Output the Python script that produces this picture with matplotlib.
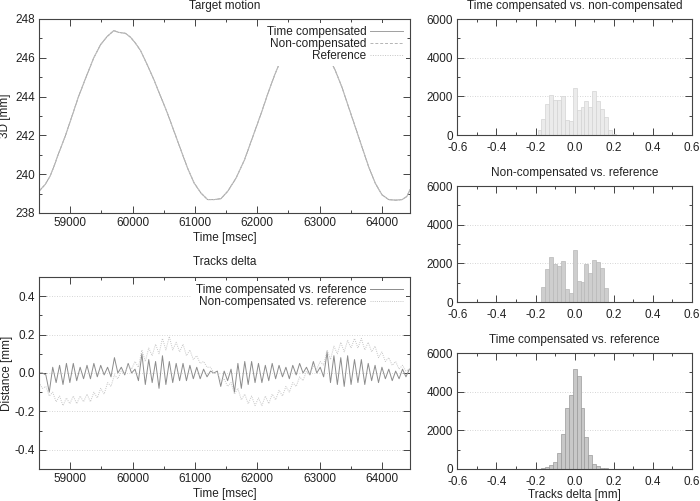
import matplotlib
matplotlib.use("Agg")
import matplotlib.pyplot as plt
import numpy as np
from matplotlib.ticker import MultipleLocator, FormatStrFormatter

plt.rcParams["font.family"] = ["Liberation Sans", "DejaVu Sans"]
plt.rcParams["font.size"] = 8.5
plt.rcParams["text.color"] = "#222222"
plt.rcParams["axes.labelcolor"] = "#222222"
plt.rcParams["xtick.color"] = "#444444"
plt.rcParams["ytick.color"] = "#444444"
plt.rcParams["xtick.labelcolor"] = "#222222"
plt.rcParams["ytick.labelcolor"] = "#222222"

# target motion (3D position, mm)
motion_t = [58500, 58597, 58677, 58731, 58812, 58919, 59027, 59134, 59269, 59376,
            59484, 59591, 59699, 59780, 59887, 59968, 60048, 60129, 60237, 60344,
            60452, 60559, 60667, 60774, 60882, 60989, 61097, 61204, 61312, 61419,
            61527, 61661, 61796, 61930, 62065, 62172, 62280, 62398, 62500, 62600,
            62700, 62800, 62900, 63000, 63140, 63247, 63355, 63462, 63570, 63677,
            63785, 63892, 64000, 64108, 64220, 64323, 64400, 64450]
motion_mm = [239.12, 239.46, 239.89, 240.32, 241.05, 241.94, 242.97, 244.00, 245.12, 245.98,
             246.66, 247.09, 247.40, 247.31, 247.26, 247.06, 246.75, 246.37, 245.63, 244.86,
             244.00, 243.15, 242.20, 241.26, 240.32, 239.54, 239.03, 238.69, 238.69, 238.74,
             239.12, 239.80, 240.74, 241.94, 243.15, 244.17, 245.12, 246.03, 246.60, 247.10,
             247.40, 247.40, 247.20, 246.80, 246.06, 245.38, 244.52, 243.49, 242.46, 241.43,
             240.40, 239.54, 238.94, 238.69, 238.66, 238.69, 238.85, 239.20]

# tracks delta, sampled every 55 ms from 58500
delta_t0 = 58500
delta_dt = 55
delta_comp = [0.00, 0.00, -0.01, -0.10, 0.03, -0.05, 0.04, -0.06, 0.05, -0.05,
              0.05, -0.04, 0.03, -0.03, 0.04, -0.03, 0.05, -0.02, 0.04, -0.01,
              0.03, -0.02, 0.08, 0.00, 0.03, -0.01, 0.05, 0.00, 0.02, -0.04,
              0.10, -0.06, 0.07, -0.05, 0.06, -0.08, 0.09, -0.06, 0.06, -0.05,
              0.05, -0.04, 0.05, -0.04, 0.04, -0.03, 0.03, -0.03, 0.02, -0.02,
              0.01, 0.00, 0.01, -0.07, 0.01, -0.04, 0.02, -0.10, 0.05, -0.08,
              0.06, -0.06, 0.06, -0.05, 0.05, -0.05, 0.04, -0.04, 0.05, -0.03,
              0.04, -0.02, 0.03, -0.03, 0.04, -0.01, 0.05, 0.00, 0.03, -0.01,
              0.06, 0.00, 0.03, -0.02, 0.11, -0.05, 0.09, -0.06, 0.08, -0.07,
              0.09, -0.06, 0.07, -0.05, 0.07, -0.06, 0.05, -0.04, 0.04, -0.05,
              0.03, -0.03, 0.02, -0.04, 0.01, -0.03, 0.02, -0.02, 0.02]
delta_noncomp = [-0.05, -0.08, -0.07, -0.12, -0.10, -0.15, -0.12, -0.17, -0.13, -0.16,
                 -0.12, -0.16, -0.12, -0.15, -0.11, -0.15, -0.10, -0.13, -0.08, -0.11,
                 -0.05, -0.07, -0.01, -0.03, 0.01, 0.00, 0.04, 0.02, 0.06, 0.03,
                 0.12, 0.06, 0.13, 0.09, 0.15, 0.10, 0.18, 0.12, 0.19, 0.12,
                 0.16, 0.11, 0.15, 0.09, 0.12, 0.07, 0.09, 0.05, 0.06, 0.03,
                 0.03, 0.00, 0.00, -0.04, -0.03, -0.07, -0.05, -0.11, -0.08, -0.14,
                 -0.11, -0.16, -0.12, -0.17, -0.13, -0.17, -0.12, -0.16, -0.11, -0.14,
                 -0.09, -0.12, -0.07, -0.10, -0.05, -0.07, -0.02, -0.04, 0.01, -0.01,
                 0.04, 0.02, 0.06, 0.04, 0.12, 0.07, 0.14, 0.10, 0.16, 0.11,
                 0.17, 0.13, 0.18, 0.13, 0.18, 0.12, 0.16, 0.11, 0.14, 0.08,
                 0.11, 0.06, 0.08, 0.04, 0.06, 0.02, 0.04, 0.01, 0.02]

# histograms (bin centres in mm, counts)
hist1_centers = [-0.18, -0.16, -0.14, -0.12, -0.10, -0.08, -0.06, -0.04, -0.02, 0.00,
                 0.02, 0.04, 0.06, 0.08, 0.10, 0.12, 0.14, 0.16, 0.18, 0.20]
hist1_counts = [275, 840, 1620, 2080, 1820, 1820, 2030, 790, 740, 2410,
                1310, 1450, 1770, 1450, 2290, 1740, 1360, 910, 275, 70]
hist2_centers = [-0.16, -0.14, -0.12, -0.10, -0.08, -0.06, -0.04, -0.02, 0.00,
                 0.02, 0.04, 0.06, 0.08, 0.10, 0.12, 0.14, 0.16]
hist2_counts = [770, 1690, 2330, 1950, 1840, 2140, 690, 480, 2700,
                1090, 1060, 1970, 1500, 2190, 2080, 1780, 740]
hist3_centers = [-0.18, -0.16, -0.14, -0.12, -0.10, -0.08, -0.06, -0.04, -0.02, 0.00,
                 0.02, 0.04, 0.06, 0.08, 0.10, 0.12, 0.14, 0.16, 0.18]
hist3_counts = [15, 35, 100, 225, 350, 835, 1830, 3180, 3830, 5190,
                4820, 3130, 1650, 700, 260, 140, 70, 35, 15]

fig = plt.figure(figsize=(7.0, 5.01), dpi=100)
ax_motion = fig.add_axes([0.0557, 0.5749, 0.5300, 0.3872])
ax_delta = fig.add_axes([0.0557, 0.0639, 0.5300, 0.3832])
ax_h1 = fig.add_axes([0.6533, 0.7305, 0.3353, 0.2315])
ax_h2 = fig.add_axes([0.6533, 0.3972, 0.3353, 0.2315])
ax_h3 = fig.add_axes([0.6533, 0.0639, 0.3353, 0.2315])


def style_axes(ax):
    for side in ax.spines.values():
        side.set_color("#444444")
        side.set_linewidth(0.8)
    ax.tick_params(which="both", direction="in", top=True, right=True, width=0.7)
    ax.tick_params(which="major", length=5, pad=3)
    ax.tick_params(which="minor", length=2.5)


def grid_y(ax):
    ax.yaxis.grid(True, which="major", color="#c8c8c8", linestyle=(0, (1, 2)), linewidth=0.6)
    ax.set_axisbelow(True)


def key(ax):
    leg = ax.legend(loc="upper right", markerfirst=False, alignment="right", frameon=True,
                    framealpha=1, edgecolor="none", fancybox=False, handlelength=2.8,
                    handletextpad=0.3, labelspacing=0.0, borderpad=0.3, borderaxespad=0.3)
    leg.get_frame().set_linewidth(0)
    return leg


# top-left: target motion
ax_motion.plot(motion_t, motion_mm, color="#a0a0a0", lw=0.7, label="Time compensated")
ax_motion.plot(motion_t, motion_mm, color="#b4b4b4", lw=0.7, ls=(0, (3, 2)), label="Non-compensated")
ax_motion.plot(motion_t, motion_mm, color="#c4c4c4", lw=0.7, ls=(0, (1, 1.5)), label="Reference")
ax_motion.set_xlim(58500, 64450)
ax_motion.set_ylim(238, 248)
ax_motion.xaxis.set_major_locator(MultipleLocator(1000))
ax_motion.xaxis.set_minor_locator(MultipleLocator(500))
ax_motion.yaxis.set_major_locator(MultipleLocator(2))
ax_motion.yaxis.set_minor_locator(MultipleLocator(1))
style_axes(ax_motion)
ax_motion.set_title("Target motion", fontsize=8.5, pad=7)
ax_motion.set_xlabel("Time [msec]", labelpad=2)
ax_motion.set_ylabel("3D [mm]", labelpad=3)
key(ax_motion)

# bottom-left: tracks delta
t_delta = delta_t0 + delta_dt * np.arange(len(delta_comp))
ax_delta.plot(t_delta, delta_comp, color="#8c8c8c", lw=0.7, label="Time compensated vs. reference")
ax_delta.plot(t_delta, delta_noncomp, color="#c6c6c6", lw=0.7, ls=(0, (1, 1.2)),
              label="Non-compensated vs. reference")
ax_delta.set_xlim(58500, 64450)
ax_delta.set_ylim(-0.5, 0.5)
ax_delta.xaxis.set_major_locator(MultipleLocator(1000))
ax_delta.xaxis.set_minor_locator(MultipleLocator(500))
ax_delta.yaxis.set_major_locator(MultipleLocator(0.2))
ax_delta.yaxis.set_minor_locator(MultipleLocator(0.1))
ax_delta.yaxis.set_major_formatter(FormatStrFormatter("%.1f"))
grid_y(ax_delta)
style_axes(ax_delta)
ax_delta.set_title("Tracks delta", fontsize=8.5, pad=9)
ax_delta.set_xlabel("Time [msec]", labelpad=2)
ax_delta.set_ylabel("Distance [mm]", labelpad=1)
key(ax_delta)

# right: histograms
hists = [
    (ax_h1, hist1_centers, hist1_counts, "Time compensated vs. non-compensated", "#ebebeb", "#d4d4d4"),
    (ax_h2, hist2_centers, hist2_counts, "Non-compensated vs. reference", "#cecece", "#b8b8b8"),
    (ax_h3, hist3_centers, hist3_counts, "Time compensated vs. reference", "#c8c8c8", "#9a9a9a"),
]
for ax, centers, counts, title, fill, edge in hists:
    ax.bar(centers, counts, width=0.02, color=fill, edgecolor=edge, linewidth=0.5, zorder=2)
    ax.set_xlim(-0.6, 0.6)
    ax.set_ylim(0, 6000)
    ax.xaxis.set_major_locator(MultipleLocator(0.2))
    ax.xaxis.set_minor_locator(MultipleLocator(0.1))
    ax.xaxis.set_major_formatter(FormatStrFormatter("%.1f"))
    ax.yaxis.set_major_locator(MultipleLocator(2000))
    ax.yaxis.set_minor_locator(MultipleLocator(1000))
    grid_y(ax)
    style_axes(ax)
    ax.tick_params(axis="x", which="major", pad=5)
    ax.set_title(title, fontsize=8.5, pad=7)
ax_h3.set_xlabel("Tracks delta [mm]", labelpad=1)

fig.savefig("out.png", dpi=100)
